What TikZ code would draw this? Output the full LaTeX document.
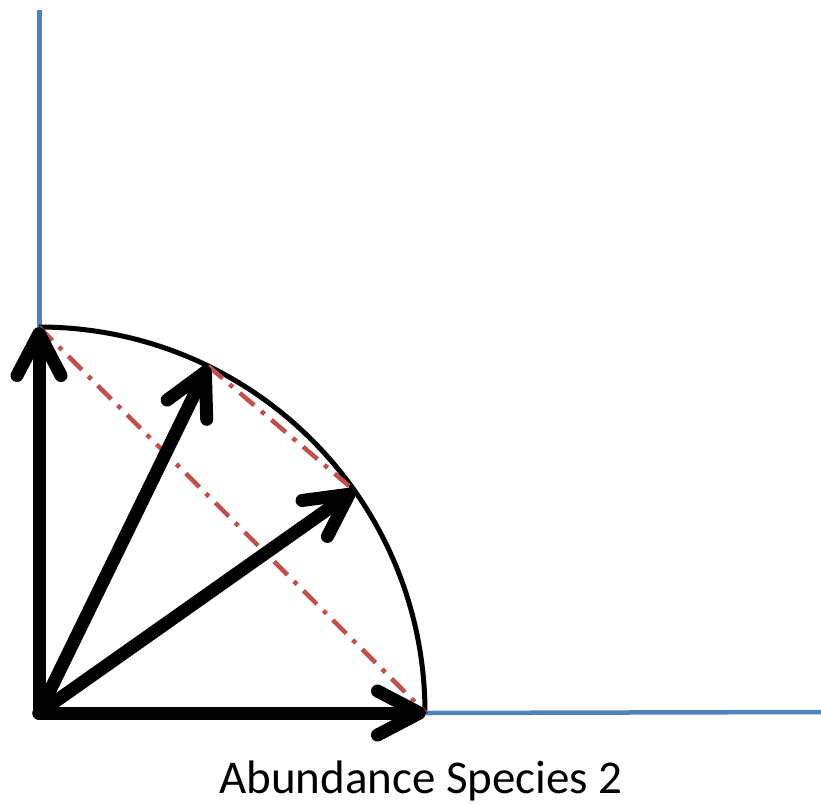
\documentclass[tikz,border=0pt]{standalone}
\usepackage{fontspec}
\setmainfont{Carlito}
\usetikzlibrary{arrows.meta}
\definecolor{axisblue}{RGB}{79,129,189}
\definecolor{dashred}{RGB}{192,80,77}
\tikzset{
  axisline/.style={draw=axisblue, line width=4.5pt},
  vec/.style={draw=black, line width=13pt, line cap=round,
    -{Straight Barb[round, length=42pt, width=44pt, line width=13pt]}},
  rim/.style={draw=black, line width=5pt},
  chord/.style={draw=dashred, line width=4.5pt, dash pattern=on 19pt off 9pt on 4.5pt off 9pt},
  lbl/.style={font=\fontsize{47}{52}\selectfont, anchor=base}
}
\begin{document}
\begin{tikzpicture}[x=1pt,y=-1pt]
\useasboundingbox (0,0) rectangle (821,804);
\coordinate (O) at (39,713);
\coordinate (T) at (39,327);
\coordinate (R) at (426,713);
\path (O) ++(-64:386) coordinate (A);
\path (O) ++(-35.2:386) coordinate (B);
\coordinate (Ytop) at (39.5,10);
\coordinate (Yend) at (39.5,327);
\coordinate (Xend) at (821,712);
% axes
\draw[axisline] (Ytop) -- (Yend);
\draw[axisline] (R) -- (Xend);
% arc
\draw[rim] (T) arc[start angle=-90, end angle=0, radius=386];
% chords
\draw[chord] (T) -- (R);
\draw[chord] (A) -- (B);
% vectors
\draw[vec] (O) -- (T);
\draw[vec] (O) -- (R);
\draw[vec] (O) -- (A);
\draw[vec] (O) -- (B);
\node[lbl] (lab) at (421,793) {Abundance Species 2};
\end{tikzpicture}
\end{document}
